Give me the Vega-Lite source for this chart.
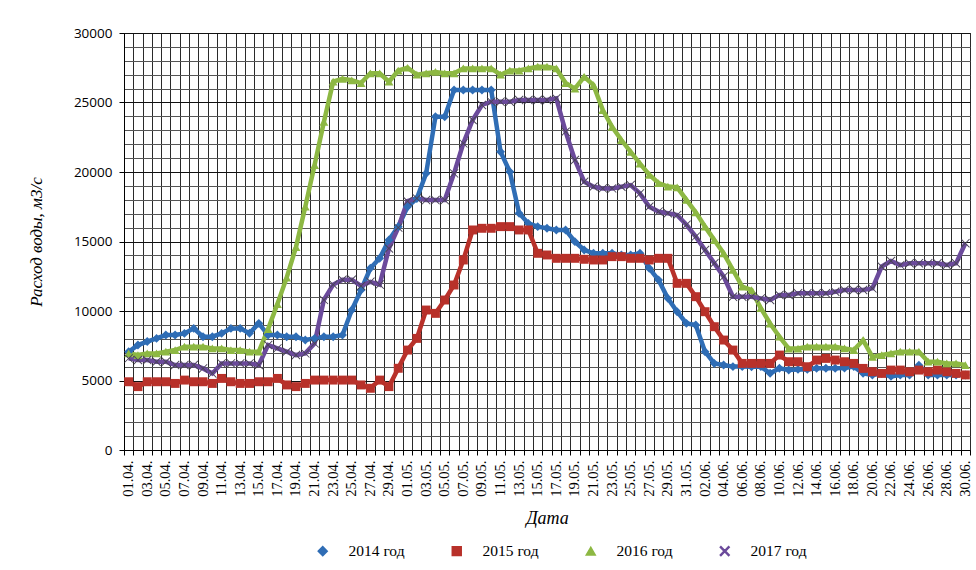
{
  "$schema": "https://vega.github.io/schema/vega-lite/v6.json",
  "autosize": "none",
  "width": 846,
  "height": 417,
  "padding": {"left": 124, "top": 33, "right": 6, "bottom": 120},
  "background": "white",
  "config": {"view": {"stroke": "#333", "strokeWidth": 1}},
  "data": {
    "values": [
      {"d":"01.04.","2014 год":7070,"2015 год":4910,"2016 год":6950,"2017 год":6590},
      {"d":"02.04.","2014 год":7550,"2015 год":4560,"2016 год":6830,"2017 год":6470},
      {"d":"03.04.","2014 год":7800,"2015 год":4910,"2016 год":6950,"2017 год":6470},
      {"d":"04.04.","2014 год":8030,"2015 год":4910,"2016 год":6950,"2017 год":6350},
      {"d":"05.04.","2014 год":8270,"2015 год":4910,"2016 год":7070,"2017 год":6350},
      {"d":"06.04.","2014 год":8270,"2015 год":4790,"2016 год":7190,"2017 год":6110},
      {"d":"07.04.","2014 год":8390,"2015 год":5030,"2016 год":7430,"2017 год":6110},
      {"d":"08.04.","2014 год":8750,"2015 год":4910,"2016 год":7430,"2017 год":6110},
      {"d":"09.04.","2014 год":8150,"2015 год":4910,"2016 год":7430,"2017 год":5870},
      {"d":"10.04.","2014 год":8150,"2015 год":4790,"2016 год":7310,"2017 год":5510},
      {"d":"11.04.","2014 год":8390,"2015 год":5150,"2016 год":7310,"2017 год":6230},
      {"d":"12.04.","2014 год":8750,"2015 год":4910,"2016 год":7190,"2017 год":6230},
      {"d":"13.04.","2014 год":8750,"2015 год":4790,"2016 год":7190,"2017 год":6230},
      {"d":"14.04.","2014 год":8400,"2015 год":4790,"2016 год":7070,"2017 год":6230},
      {"d":"15.04.","2014 год":9110,"2015 год":4910,"2016 год":7070,"2017 год":6110},
      {"d":"16.04.","2014 год":8270,"2015 год":4910,"2016 год":8700,"2017 год":7550},
      {"d":"17.04.","2014 год":8270,"2015 год":5150,"2016 год":10500,"2017 год":7310},
      {"d":"18.04.","2014 год":8150,"2015 год":4680,"2016 год":12400,"2017 год":7070},
      {"d":"19.04.","2014 год":8150,"2015 год":4560,"2016 год":14600,"2017 год":6830},
      {"d":"20.04.","2014 год":7910,"2015 год":4790,"2016 год":17500,"2017 год":6950},
      {"d":"21.04.","2014 год":8030,"2015 год":5030,"2016 год":20500,"2017 год":7670},
      {"d":"22.04.","2014 год":8150,"2015 год":5030,"2016 год":23600,"2017 год":10800},
      {"d":"23.04.","2014 год":8150,"2015 год":5030,"2016 год":26500,"2017 год":11900},
      {"d":"24.04.","2014 год":8270,"2015 год":5030,"2016 год":26700,"2017 год":12250},
      {"d":"25.04.","2014 год":10070,"2015 год":5030,"2016 год":26600,"2017 год":12250},
      {"d":"26.04.","2014 год":11510,"2015 год":4680,"2016 год":26400,"2017 год":11800},
      {"d":"27.04.","2014 год":13070,"2015 год":4440,"2016 год":27100,"2017 год":12100},
      {"d":"28.04.","2014 год":13790,"2015 год":5030,"2016 год":27100,"2017 год":11900},
      {"d":"29.04.","2014 год":15110,"2015 год":4560,"2016 год":26500,"2017 год":14500},
      {"d":"30.04.","2014 год":16070,"2015 год":5880,"2016 год":27300,"2017 год":16000},
      {"d":"01.05.","2014 год":17500,"2015 год":7190,"2016 год":27500,"2017 год":17900},
      {"d":"02.05.","2014 год":18100,"2015 год":8030,"2016 год":27000,"2017 год":18100},
      {"d":"03.05.","2014 год":19900,"2015 год":10070,"2016 год":27100,"2017 год":17980},
      {"d":"04.05.","2014 год":23980,"2015 год":9830,"2016 год":27200,"2017 год":17980},
      {"d":"05.05.","2014 год":23980,"2015 год":10790,"2016 год":27100,"2017 год":17980},
      {"d":"06.05.","2014 год":25900,"2015 год":11870,"2016 год":27100,"2017 год":19900},
      {"d":"07.05.","2014 год":25900,"2015 год":13670,"2016 год":27450,"2017 год":22060},
      {"d":"08.05.","2014 год":25900,"2015 год":15830,"2016 год":27450,"2017 год":23740},
      {"d":"09.05.","2014 год":25900,"2015 год":15950,"2016 год":27450,"2017 год":24820},
      {"d":"10.05.","2014 год":25900,"2015 год":15950,"2016 год":27450,"2017 год":25060},
      {"d":"11.05.","2014 год":21460,"2015 год":16070,"2016 год":27000,"2017 год":25060},
      {"d":"12.05.","2014 год":20020,"2015 год":16070,"2016 год":27300,"2017 год":25060},
      {"d":"13.05.","2014 год":17030,"2015 год":15830,"2016 год":27300,"2017 год":25180},
      {"d":"14.05.","2014 год":16300,"2015 год":15830,"2016 год":27450,"2017 год":25180},
      {"d":"15.05.","2014 год":16070,"2015 год":14150,"2016 год":27580,"2017 год":25180},
      {"d":"16.05.","2014 год":15950,"2015 год":14030,"2016 год":27580,"2017 год":25180},
      {"d":"17.05.","2014 год":15830,"2015 год":13790,"2016 год":27450,"2017 год":25300},
      {"d":"18.05.","2014 год":15830,"2015 год":13790,"2016 год":26400,"2017 год":22900},
      {"d":"19.05.","2014 год":14990,"2015 год":13790,"2016 год":26000,"2017 год":20860},
      {"d":"20.05.","2014 год":14390,"2015 год":13720,"2016 год":26850,"2017 год":19300},
      {"d":"21.05.","2014 год":14150,"2015 год":13670,"2016 год":26250,"2017 год":18940},
      {"d":"22.05.","2014 год":14150,"2015 год":13670,"2016 год":24450,"2017 год":18820},
      {"d":"23.05.","2014 год":14150,"2015 год":13910,"2016 год":23250,"2017 год":18820},
      {"d":"24.05.","2014 год":14030,"2015 год":13910,"2016 год":22300,"2017 год":18940},
      {"d":"25.05.","2014 год":14030,"2015 год":13790,"2016 год":21450,"2017 год":19060},
      {"d":"26.05.","2014 год":14150,"2015 год":13790,"2016 год":20600,"2017 год":18460},
      {"d":"27.05.","2014 год":13070,"2015 год":13670,"2016 год":19800,"2017 год":17500},
      {"d":"28.05.","2014 год":12230,"2015 год":13790,"2016 год":19200,"2017 год":17150},
      {"d":"29.05.","2014 год":10910,"2015 год":13790,"2016 год":18950,"2017 год":17030},
      {"d":"30.05.","2014 год":9950,"2015 год":11990,"2016 год":18900,"2017 год":16900},
      {"d":"31.05.","2014 год":9110,"2015 год":11990,"2016 год":18000,"2017 год":16200},
      {"d":"01.06.","2014 год":8990,"2015 год":11030,"2016 год":17100,"2017 год":15350},
      {"d":"02.06.","2014 год":7070,"2015 год":9950,"2016 год":16070,"2017 год":14390},
      {"d":"03.06.","2014 год":6230,"2015 год":8870,"2016 год":15100,"2017 год":13430},
      {"d":"04.06.","2014 год":6110,"2015 год":7910,"2016 год":14150,"2017 год":12470},
      {"d":"05.06.","2014 год":6000,"2015 год":7190,"2016 год":12950,"2017 год":11030},
      {"d":"06.06.","2014 год":6000,"2015 год":6230,"2016 год":11750,"2017 год":11030},
      {"d":"07.06.","2014 год":5990,"2015 год":6230,"2016 год":11500,"2017 год":11030},
      {"d":"08.06.","2014 год":6000,"2015 год":6230,"2016 год":10200,"2017 год":10910},
      {"d":"09.06.","2014 год":5520,"2015 год":6230,"2016 год":9100,"2017 год":10790},
      {"d":"10.06.","2014 год":5880,"2015 год":6830,"2016 год":8150,"2017 год":11150},
      {"d":"11.06.","2014 год":5760,"2015 год":6350,"2016 год":7300,"2017 год":11150},
      {"d":"12.06.","2014 год":5800,"2015 год":6350,"2016 год":7300,"2017 год":11270},
      {"d":"13.06.","2014 год":5800,"2015 год":5990,"2016 год":7430,"2017 год":11270},
      {"d":"14.06.","2014 год":5880,"2015 год":6470,"2016 год":7430,"2017 год":11270},
      {"d":"15.06.","2014 год":5880,"2015 год":6590,"2016 год":7430,"2017 год":11270},
      {"d":"16.06.","2014 год":5880,"2015 год":6470,"2016 год":7430,"2017 год":11390},
      {"d":"17.06.","2014 год":5900,"2015 год":6350,"2016 год":7310,"2017 год":11510},
      {"d":"18.06.","2014 год":6000,"2015 год":6230,"2016 год":7190,"2017 год":11510},
      {"d":"19.06.","2014 год":5520,"2015 год":5870,"2016 год":7900,"2017 год":11510},
      {"d":"20.06.","2014 год":5400,"2015 год":5630,"2016 год":6700,"2017 год":11630},
      {"d":"21.06.","2014 год":5500,"2015 год":5510,"2016 год":6830,"2017 год":13200},
      {"d":"22.06.","2014 год":5300,"2015 год":5750,"2016 год":6950,"2017 год":13600},
      {"d":"23.06.","2014 год":5400,"2015 год":5750,"2016 год":7070,"2017 год":13300},
      {"d":"24.06.","2014 год":5400,"2015 год":5630,"2016 год":7070,"2017 год":13430},
      {"d":"25.06.","2014 год":6100,"2015 год":5750,"2016 год":7070,"2017 год":13430},
      {"d":"26.06.","2014 год":5400,"2015 год":5630,"2016 год":6350,"2017 год":13430},
      {"d":"27.06.","2014 год":5400,"2015 год":5750,"2016 год":6350,"2017 год":13430},
      {"d":"28.06.","2014 год":5400,"2015 год":5630,"2016 год":6230,"2017 год":13310},
      {"d":"29.06.","2014 год":5400,"2015 год":5510,"2016 год":6230,"2017 год":13430},
      {"d":"30.06.","2014 год":5400,"2015 год":5400,"2016 год":6110,"2017 год":14870}
    ]
  },
  "transform": [
    {"fold": ["2014 год", "2015 год", "2016 год", "2017 год"], "as": ["series", "flow"]}
  ],
  "encoding": {
    "x": {
      "field": "d",
      "type": "ordinal",
      "sort": null,
      "bandPosition": 0.5,
      "scale": {"type": "band", "paddingInner": 0, "paddingOuter": 0},
      "axis": {
        "title": "Дата",
        "titleFont": "Liberation Serif",
        "titleFontStyle": "italic",
        "titleFontWeight": "normal",
        "titleFontSize": 18,
        "titleColor": "#000",
        "titlePadding": 13,
        "labelAngle": -90,
        "labelFont": "Liberation Serif",
        "labelFontSize": 14.5,
        "labelColor": "#000",
        "labelPadding": 5,
        "labelExpr": "(toNumber(substring(datum.label,0,2)) + (substring(datum.label,3,5) == '06' ? 1 : 0)) % 2 == 1 ? datum.label : ''",
        "tickBand": "extent",
        "tickSize": 5,
        "tickColor": "#000",
        "domainColor": "#000",
        "grid": true,
        "gridColor": "#2a2a2a",
        "gridWidth": 1
      }
    },
    "y": {
      "field": "flow",
      "type": "quantitative",
      "scale": {"domain": [0, 30000], "nice": false},
      "axis": {
        "title": "Расход воды, м3/с",
        "titleFont": "Liberation Serif",
        "titleFontStyle": "italic",
        "titleFontWeight": "normal",
        "titleFontSize": 17,
        "titleColor": "#000",
        "titlePadding": 28,
        "values": [0,1000,2000,3000,4000,5000,6000,7000,8000,9000,10000,11000,12000,13000,14000,15000,16000,17000,18000,19000,20000,21000,22000,23000,24000,25000,26000,27000,28000,29000,30000],
        "format": "d",
        "labelExpr": "datum.value % 5000 == 0 ? datum.label : ''",
        "labelFont": "Open Sans",
        "labelFontSize": 13.5,
        "labelColor": "#000",
        "labelPadding": 7,
        "tickSize": 5,
        "tickColor": "#000",
        "tickOpacity": {"condition": {"test": "datum.value % 5000 == 0", "value": 1}, "value": 0},
        "domainColor": "#000",
        "grid": true,
        "gridColor": {"condition": {"test": "datum.value % 5000 == 0", "value": "#111"}, "value": "#555"},
        "gridWidth": 1
      }
    },
    "color": {
      "field": "series",
      "type": "nominal",
      "scale": {
        "domain": ["2014 год", "2015 год", "2016 год", "2017 год"],
        "range": ["#2F6DB5", "#B8312A", "#8DB843", "#6B4A9B"]
      },
      "legend": {
        "title": null,
        "orient": "none",
        "legendX": 191,
        "legendY": 510,
        "direction": "horizontal",
        "labelFont": "Liberation Serif",
        "labelFontSize": 15.5,
        "labelColor": "#000",
        "labelOffset": 18,
        "symbolSize": 80,
        "columnPadding": 44
      }
    }
  },
  "layer": [
    {"mark": {"type": "line", "strokeWidth": 4.5}},
    {
      "mark": {"type": "point", "filled": true, "opacity": 1, "size": 80},
      "encoding": {
        "shape": {
          "field": "series",
          "type": "nominal",
          "scale": {
            "domain": ["2014 год", "2015 год", "2016 год", "2017 год"],
            "range": ["diamond", "square", "triangle-up", "M-1,-0.85L-0.85,-1L0,-0.15L0.85,-1L1,-0.85L0.15,0L1,0.85L0.85,1L0,0.15L-0.85,1L-1,0.85L-0.15,0Z"]
          },
          "legend": {
            "title": null,
            "orient": "none",
            "legendX": 191,
            "legendY": 510,
            "direction": "horizontal",
            "labelFont": "Liberation Serif",
            "labelFontSize": 15.5,
            "labelColor": "#000",
            "labelOffset": 18,
            "symbolSize": 80,
            "columnPadding": 44
          }
        },
        "color": {
          "field": "series",
          "type": "nominal",
          "condition": {"test": "datum.series == '2017 год'", "value": "#4a4458"}
        }
      }
    }
  ]
}
